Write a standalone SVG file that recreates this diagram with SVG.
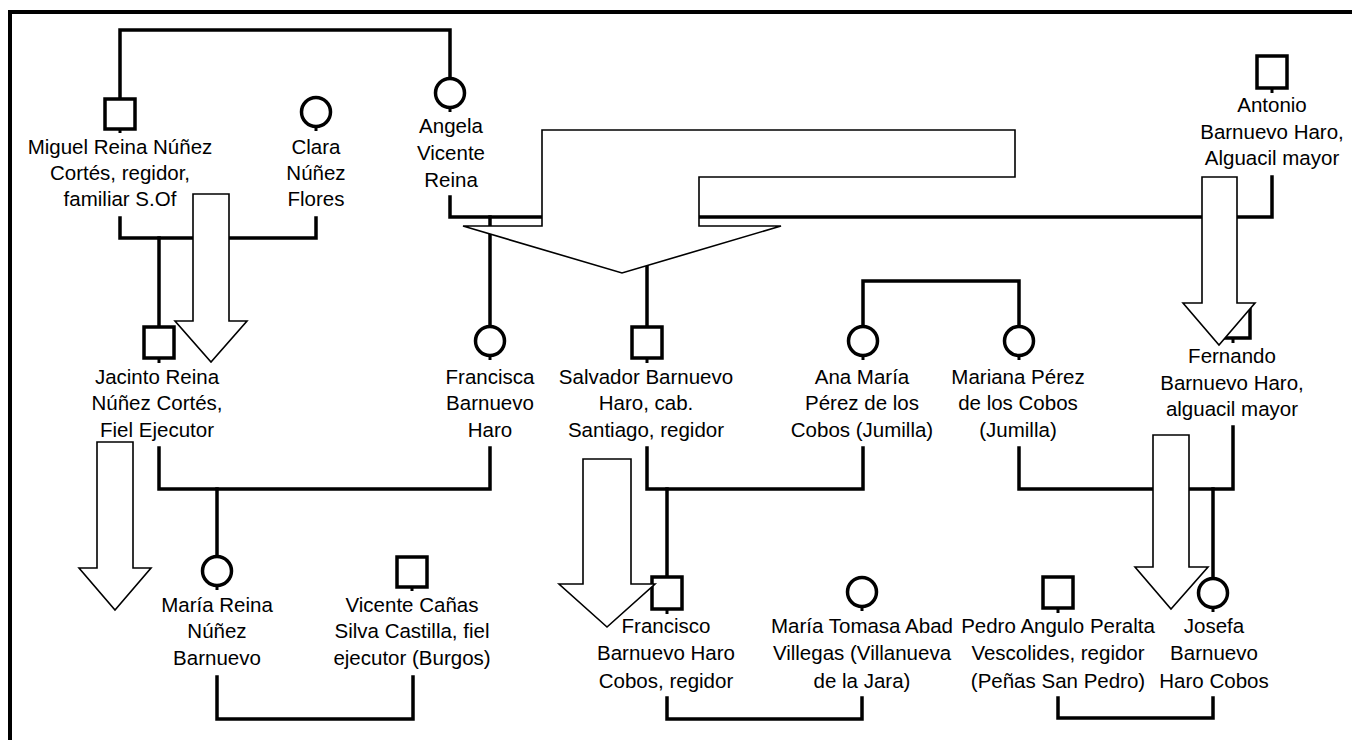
<svg xmlns="http://www.w3.org/2000/svg" width="1352" height="740" viewBox="0 0 1352 740">
<style>
.ln{fill:none;stroke:#000;stroke-width:3.5;stroke-linecap:square}
.sq{fill:#fff;stroke:#000;stroke-width:3.5}
.ci{fill:#fff;stroke:#000;stroke-width:3.5}
.st{stroke:#000;stroke-width:3}
.ar{fill:#fff;stroke:#000;stroke-width:1.6;stroke-linejoin:miter}
text{font-family:"Liberation Sans",Arial,sans-serif;font-size:20.5px;text-anchor:middle;fill:#000}
</style>
<rect x="10" y="12" width="1400" height="800" fill="#fff" stroke="#000" stroke-width="4"/>
<g id="connectors">
<path class="ln" d="M120 97 V30 H450 V78"/>
<path class="ln" d="M120 218 V238 H316 V218"/>
<path class="ln" d="M159 238 V325"/>
<path class="ln" d="M450 197 V217 H1272 V177"/>
<path class="ln" d="M490 217 V326"/>
<path class="ln" d="M647 217 V325"/>
<path class="ln" d="M863 326 V281 H1019 V326"/>
<path class="ln" d="M159 448 V489 H490 V448"/>
<path class="ln" d="M217 489 V556"/>
<path class="ln" d="M647 448 V489 H863 V448"/>
<path class="ln" d="M667 489 V576"/>
<path class="ln" d="M1019 448 V489 H1233 V427"/>
<path class="ln" d="M1213 489 V578"/>
<path class="ln" d="M217 677 V719 H413 V677"/>
<path class="ln" d="M667 698 V719 H862 V698"/>
<path class="ln" d="M1058 698 V718 H1213 V698"/>
</g>
<g id="miguel">
<rect class="sq" x="105" y="99" width="30" height="30"/><line class="st" x1="120" y1="129" x2="120" y2="133"/>
<text x="120" y="154">Miguel Reina Núñez</text><text x="120" y="180">Cortés, regidor,</text><text x="120" y="206">familiar S.Of</text>
</g>
<g id="clara">
<circle class="ci" cx="316" cy="112" r="14.5"/><line class="st" x1="316" y1="126" x2="316" y2="131"/>
<text x="316" y="154">Clara</text><text x="316" y="180">Núñez</text><text x="316" y="206">Flores</text>
</g>
<g id="angela">
<circle class="ci" cx="450" cy="93" r="14.5"/><line class="st" x1="450" y1="107" x2="450" y2="112"/>
<text x="451" y="133">Angela</text><text x="451" y="160">Vicente</text><text x="451" y="187">Reina</text>
</g>
<g id="antonio">
<rect class="sq" x="1257" y="56" width="30" height="32"/><line class="st" x1="1272" y1="88" x2="1272" y2="93"/>
<text x="1272" y="112">Antonio</text><text x="1272" y="139">Barnuevo Haro,</text><text x="1272" y="165">Alguacil mayor</text>
</g>
<g id="jacinto">
<rect class="sq" x="144" y="327" width="30" height="31"/><line class="st" x1="159" y1="358" x2="159" y2="363"/>
<text x="157" y="384">Jacinto Reina</text><text x="157" y="410">Núñez Cortés,</text><text x="157" y="437">Fiel Ejecutor</text>
</g>
<g id="francisca">
<circle class="ci" cx="490" cy="341" r="14.5"/><line class="st" x1="490" y1="355" x2="490" y2="360"/>
<text x="490" y="384">Francisca</text><text x="490" y="410">Barnuevo</text><text x="490" y="437">Haro</text>
</g>
<g id="salvador">
<rect class="sq" x="632" y="327" width="30" height="31"/><line class="st" x1="647" y1="358" x2="647" y2="363"/>
<text x="646" y="384">Salvador Barnuevo</text><text x="646" y="410">Haro, cab.</text><text x="646" y="437">Santiago, regidor</text>
</g>
<g id="ana">
<circle class="ci" cx="863" cy="341" r="14.5"/><line class="st" x1="863" y1="355" x2="863" y2="360"/>
<text x="862" y="384">Ana María</text><text x="862" y="410">Pérez de los</text><text x="862" y="437">Cobos (Jumilla)</text>
</g>
<g id="mariana">
<circle class="ci" cx="1019" cy="341" r="14.5"/><line class="st" x1="1019" y1="355" x2="1019" y2="360"/>
<text x="1018" y="384">Mariana Pérez</text><text x="1018" y="410">de los Cobos</text><text x="1018" y="437">(Jumilla)</text>
</g>
<g id="fernando">
<rect class="sq" x="1220" y="307" width="30" height="31"/><line class="st" x1="1233" y1="338" x2="1233" y2="343"/>
<text x="1232" y="363">Fernando</text><text x="1232" y="390">Barnuevo Haro,</text><text x="1232" y="416">alguacil mayor</text>
</g>
<g id="maria-reina">
<circle class="ci" cx="217" cy="571" r="14.5"/><line class="st" x1="217" y1="585" x2="217" y2="590"/>
<text x="217" y="612">María Reina</text><text x="217" y="638">Núñez</text><text x="217" y="665">Barnuevo</text>
</g>
<g id="vicente">
<rect class="sq" x="397" y="557" width="30" height="30"/><line class="st" x1="412" y1="587" x2="412" y2="591"/>
<text x="412" y="612">Vicente Cañas</text><text x="412" y="638">Silva Castilla, fiel</text><text x="412" y="665">ejecutor (Burgos)</text>
</g>
<g id="francisco">
<rect class="sq" x="652" y="577" width="30" height="32"/><line class="st" x1="667" y1="609" x2="667" y2="614"/>
<text x="666" y="633">Francisco</text><text x="666" y="660">Barnuevo Haro</text><text x="666" y="688">Cobos, regidor</text>
</g>
<g id="maria-tomasa">
<circle class="ci" cx="862" cy="592" r="14.5"/><line class="st" x1="862" y1="606" x2="862" y2="611"/>
<text x="862" y="633">María Tomasa Abad</text><text x="862" y="660">Villegas (Villanueva</text><text x="862" y="688">de la Jara)</text>
</g>
<g id="pedro">
<rect class="sq" x="1043" y="577" width="30" height="31"/><line class="st" x1="1058" y1="608" x2="1058" y2="613"/>
<text x="1058" y="633">Pedro Angulo Peralta</text><text x="1058" y="660">Vescolides, regidor</text><text x="1058" y="688">(Peñas San Pedro)</text>
</g>
<g id="josefa">
<circle class="ci" cx="1213" cy="593" r="14.5"/><line class="st" x1="1213" y1="607" x2="1213" y2="612"/>
<text x="1214" y="633">Josefa</text><text x="1214" y="660">Barnuevo</text><text x="1214" y="688">Haro Cobos</text>
</g>
<g id="arrows">
<polygon class="ar" points="542,130 1015,130 1015,177 699,177 699,226 781,226 622,273 463,226 542,226"/>
<polygon class="ar" points="193,194 229,194 229,321 247,321 211,362 175,321 193,321"/>
<polygon class="ar" points="97,442 133,442 133,568 151,568 115,610 79,568 97,568"/>
<polygon class="ar" points="583,459 631,459 631,584 655,584 607,627 559,584 583,584"/>
<polygon class="ar" points="1202,177 1237,177 1237,303 1255,303 1219,345 1183,303 1202,303"/>
<polygon class="ar" points="1153,435 1189,435 1189,567 1208,567 1171,609 1135,567 1153,567"/>
</g>
</svg>
